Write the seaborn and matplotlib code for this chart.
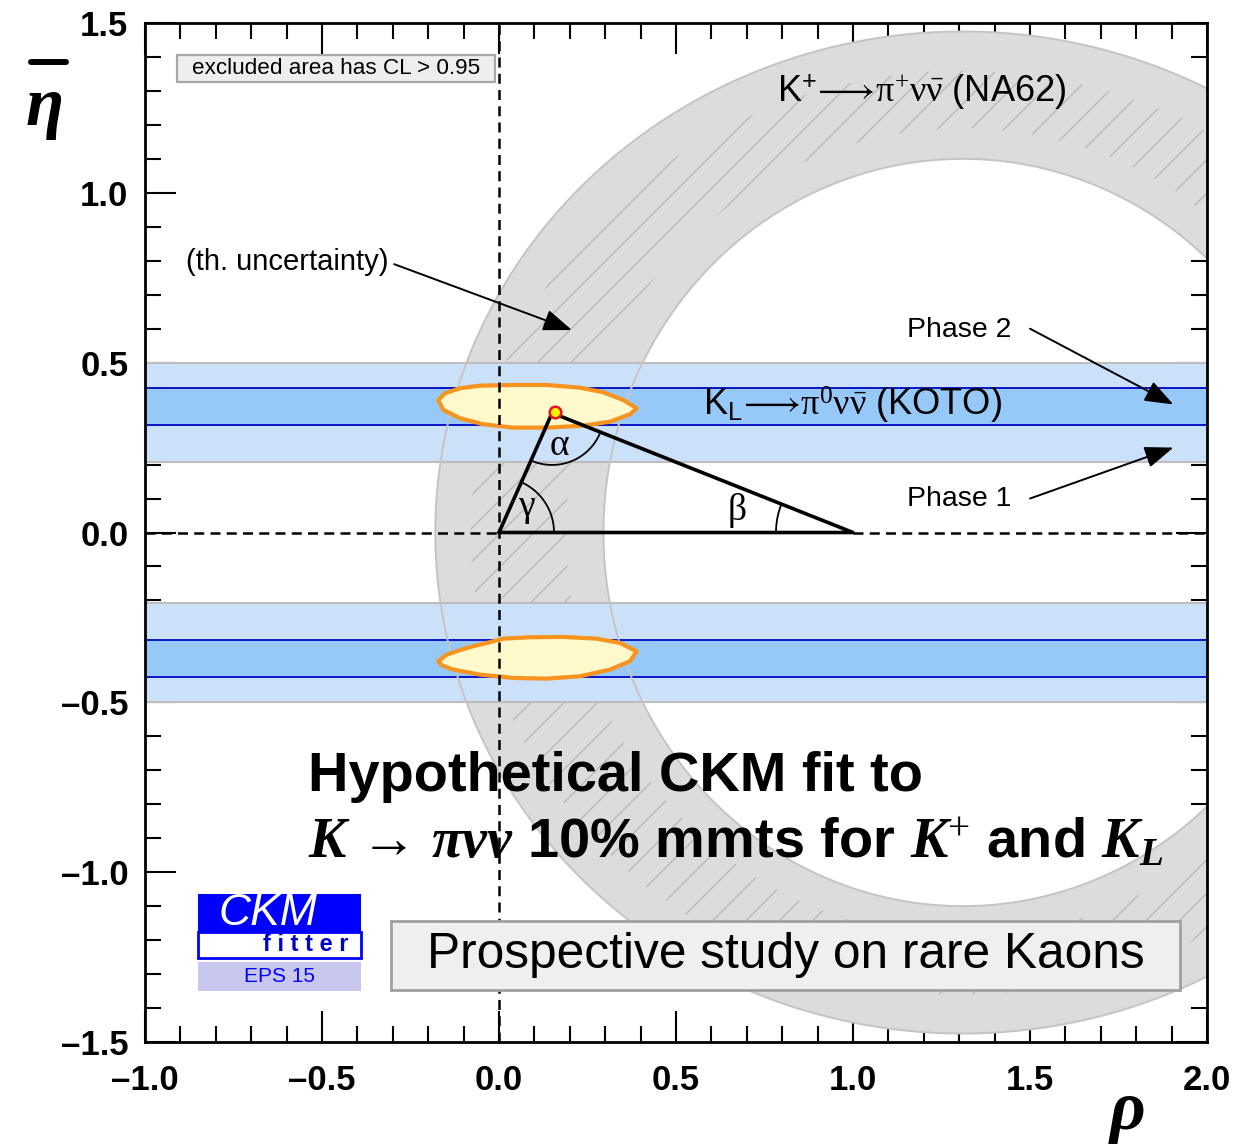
import numpy as np
import pandas as pd
import matplotlib
matplotlib.use("Agg")
import matplotlib.pyplot as plt
import seaborn as sns
from matplotlib.patches import Rectangle, PathPatch, Polygon
from matplotlib.path import Path
from matplotlib.lines import Line2D
from matplotlib.ticker import MultipleLocator, FixedLocator, FixedFormatter

# ---------------------------------------------------------------- data
x_ticks = [-1.0, -0.5, 0.0, 0.5, 1.0, 1.5, 2.0]
x_tick_labels = ["–1.0", "–0.5", "0.0", "0.5", "1.0", "1.5", "2.0"]
y_ticks = [-1.5, -1.0, -0.5, 0.0, 0.5, 1.0, 1.5]
y_tick_labels = ["–1.5", "–1.0", "–0.5", "0.0", "0.5", "1.0", "1.5"]

# K+ -> pi+ nu nubar (NA62): elliptical annulus centred on the rho axis
na62_center = [1.31, 0.0]
na62_outer_axes = [1.49, 1.475]
na62_inner_axes = [1.015, 1.10]
# theory-uncertainty (hatched) part of the annulus
na62_theory_outer_axes = [1.39, 1.36]
na62_theory_inner_axes = [1.12, 1.19]

# K_L -> pi0 nu nubar (KOTO): |eta| bands
koto_phase1 = [0.208, 0.499]
koto_phase2 = [0.317, 0.426]

# unitarity triangle vertices
triangle_rho = [0.0, 0.15, 1.0, 0.0]
triangle_eta = [0.0, 0.352, 0.0, 0.0]

# best-fit point
fit_rho = [0.158]
fit_eta = [0.355]

# 95% CL fit regions (two solutions, eta > 0 and eta < 0)
blob_upper_rho = [-0.1715, -0.1525, -0.1102, -0.0537, 0.0404, 0.1347, 0.2288, 0.2946, 0.3511,
                  0.3890, 0.3701, 0.3136, 0.2381, 0.1347, 0.0404, -0.0444, -0.1102, -0.1573]
blob_upper_eta = [0.390, 0.410, 0.4246, 0.4323, 0.4343, 0.4343, 0.4264, 0.4129, 0.390,
                  0.3658, 0.3481, 0.3263, 0.3145, 0.3087, 0.3087, 0.3187, 0.3363, 0.3608]
blob_lower_rho = [-0.1715, -0.1477, -0.0912, -0.0347, 0.0121, 0.0876, 0.1816, 0.2760, 0.3418,
                  0.3890, 0.3701, 0.3136, 0.2288, 0.1347, 0.0404, -0.0537, -0.1291, -0.1619]
blob_lower_eta = [-0.3790, -0.3596, -0.3399, -0.3252, -0.3125, -0.3084, -0.3075, -0.3125, -0.3252,
                  -0.3496, -0.3790, -0.4037, -0.4232, -0.4302, -0.4282, -0.4185, -0.4037, -0.3908]

# ---------------------------------------------------------------- style
sns.set_style("ticks")
plt.rcParams["font.family"] = ["Liberation Sans", "DejaVu Sans"]
plt.rcParams["text.color"] = "black"
plt.rcParams["xtick.color"] = "black"
plt.rcParams["ytick.color"] = "black"
plt.rcParams["xtick.labelcolor"] = "black"
plt.rcParams["ytick.labelcolor"] = "black"
plt.rcParams["axes.edgecolor"] = "black"
plt.rcParams["mathtext.fontset"] = "custom"
plt.rcParams["mathtext.rm"] = "Liberation Serif"
plt.rcParams["mathtext.it"] = "Liberation Serif:italic"
plt.rcParams["mathtext.bf"] = "Liberation Serif:bold"
plt.rcParams["mathtext.bfit"] = "Liberation Serif:italic:bold"
plt.rcParams["mathtext.sf"] = "Liberation Sans"
plt.rcParams["hatch.linewidth"] = 1.0

W, H, DPI = 1241, 1145, 100
fig = plt.figure(figsize=(W / DPI, H / DPI), dpi=DPI)
ax = fig.add_axes([145 / W, 1 - 1042 / H, (1207 - 145) / W, (1042 - 23) / H])
ax.set_xlim(-1.0, 2.0)
ax.set_ylim(-1.5, 1.5)
ax.set_facecolor("white")

# pixel scale of the axes, used to keep arcs circular on screen
SX = (1207 - 145) / 3.0
SY = (1042 - 23) / 3.0


def ellipse_xy(center, axes, n=400, reverse=False):
    t = np.linspace(0, 2 * np.pi, n)
    if reverse:
        t = t[::-1]
    return np.column_stack([center[0] + axes[0] * np.cos(t), center[1] + axes[1] * np.sin(t)])


def annulus_path(center, outer, inner):
    o = ellipse_xy(center, outer)
    i = ellipse_xy(center, inner, reverse=True)
    verts = np.vstack([o, i])
    codes = ([Path.MOVETO] + [Path.LINETO] * (len(o) - 1)
             + [Path.MOVETO] + [Path.LINETO] * (len(i) - 1))
    return Path(verts, codes)


# NA62 annulus
ax.add_patch(PathPatch(annulus_path(na62_center, na62_outer_axes, na62_inner_axes),
                       facecolor="#dcdcdc", edgecolor="none", zorder=1))
ax.add_patch(PathPatch(annulus_path(na62_center, na62_theory_outer_axes, na62_theory_inner_axes),
                       facecolor="none", edgecolor="#bababa", lw=0, hatch="/", zorder=1.2))

# KOTO bands
for sgn in (1, -1):
    lo1, hi1 = sorted([sgn * koto_phase1[0], sgn * koto_phase1[1]])
    lo2, hi2 = sorted([sgn * koto_phase2[0], sgn * koto_phase2[1]])
    ax.axhspan(lo1, hi1, facecolor="#cbe1f9", edgecolor="none", zorder=2)
    ax.axhline(lo1, color="#bdbdbd", lw=1.5, zorder=2.1)
    ax.axhline(hi1, color="#bdbdbd", lw=1.5, zorder=2.1)
    ax.axhspan(lo2, hi2, facecolor="#97c9f8", edgecolor="none", zorder=2.2)
    ax.axhline(lo2, color="#0a14c8", lw=1.4, zorder=2.3)
    ax.axhline(hi2, color="#0a14c8", lw=1.4, zorder=2.3)

# annulus outlines on top of the bands
for axes_ in (na62_outer_axes, na62_inner_axes):
    e = ellipse_xy(na62_center, axes_)
    ax.plot(e[:, 0], e[:, 1], color="#c4c4c4", lw=1.4, zorder=2.5)

# fit regions
for rr, ee in ((blob_upper_rho, blob_upper_eta), (blob_lower_rho, blob_lower_eta)):
    ax.add_patch(Polygon(np.column_stack([rr, ee]), closed=True, facecolor="#fff9cc",
                         edgecolor="#f7931e", lw=3.0, joinstyle="round", zorder=3))

# dashed axes through the origin
ax.plot([-1.0, 0.0], [0, 0], color="black", lw=1.8, ls=(0, (4, 2.5)), zorder=4)
ax.plot([1.0, 2.0], [0, 0], color="black", lw=1.8, ls=(0, (4, 2.5)), zorder=4)
ax.plot([0, 0], [-1.5, 1.5], color="black", lw=1.8, ls=(0, (4, 2.5)), zorder=4)

# unitarity triangle
tri = pd.DataFrame({"rho": triangle_rho, "eta": triangle_eta})
sns.lineplot(data=tri, x="rho", y="eta", sort=False, color="black", lw=2.6, ax=ax,
             zorder=5, estimator=None)
sns.scatterplot(x=fit_rho, y=fit_eta, s=70, color="#fff200", edgecolor="#e8101a",
                linewidth=1.8, ax=ax, zorder=6)


def angle_arc(vx, vy, p1, p2, radius_px, **kw):
    a1 = np.arctan2((p1[1] - vy) * SY, (p1[0] - vx) * SX)
    a2 = np.arctan2((p2[1] - vy) * SY, (p2[0] - vx) * SX)
    if a2 < a1:
        a2 += 2 * np.pi
    t = np.linspace(a1, a2, 100)
    ax.plot(vx + radius_px * np.cos(t) / SX, vy + radius_px * np.sin(t) / SY, **kw)


A = (triangle_rho[0], triangle_eta[0])
B = (triangle_rho[1], triangle_eta[1])
C = (triangle_rho[2], triangle_eta[2])
angle_arc(A[0], A[1], C, B, 55, color="black", lw=1.3, zorder=5)
angle_arc(B[0], B[1], A, C, 52, color="black", lw=1.3, zorder=5)
angle_arc(C[0], C[1], B, A, 77, color="black", lw=1.3, zorder=5)
serif = ["Liberation Serif", "DejaVu Serif"]
ax.text(0.172, 0.255, "α", family=serif, fontsize=27, ha="center", va="center", zorder=6)
ax.text(0.078, 0.075, "γ", family=serif, fontsize=27, ha="center", va="center", zorder=6)
ax.text(0.672, 0.065, "β", family=serif, fontsize=27, ha="center", va="center", zorder=6)

# labels
ax.text(1.195, 1.295, r"K$^{\mathsf{+}}\!\longrightarrow\!\mathrm{\pi}^{+}\mathrm{\nu\bar{\nu}}$ (NA62)",
        fontsize=26, ha="center", va="center", zorder=7)
ax.text(0.576, 0.375, r"K$_{\mathsf{L}}\!\longrightarrow\!\mathrm{\pi}^{0}\mathrm{\nu\bar{\nu}}$ (KOTO)",
        fontsize=26, ha="left", va="center", zorder=7)
ax.text(-0.885, 0.796, "(th. uncertainty)", fontsize=21, ha="left", va="center", zorder=7)
ax.text(1.30, 0.596, "Phase 2", fontsize=20.5, ha="center", va="center", zorder=7)
ax.text(1.30, 0.100, "Phase 1", fontsize=20.5, ha="center", va="center", zorder=7)

arrow = dict(arrowstyle="-|>,head_length=0.8,head_width=0.3", color="black", lw=1.4,
             mutation_scale=22, shrinkA=0, shrinkB=0)
ax.annotate("", xy=(0.206, 0.596), xytext=(-0.296, 0.790), arrowprops=arrow, zorder=7)
ax.annotate("", xy=(1.905, 0.377), xytext=(1.50, 0.600), arrowprops=arrow, zorder=7)
ax.annotate("", xy=(1.905, 0.250), xytext=(1.50, 0.100), arrowprops=arrow, zorder=7)

# legend-like boxes
ax.add_patch(Rectangle((-0.910, 1.326), 0.899, 0.080, facecolor="#eeeeee", edgecolor="#a8a8a8",
                       lw=1.6, zorder=8))
ax.text(-0.4605, 1.366, "excluded area has CL > 0.95", fontsize=16.2, ha="center", va="center",
        zorder=9)
ax.add_patch(Rectangle((-0.305, -1.347), 2.229, 0.204, facecolor="#efefef", edgecolor="#a0a0a0",
                       lw=2.0, zorder=8))
ax.text(0.8095, -1.245, "Prospective study on rare Kaons", fontsize=35.7, ha="center", va="center",
        zorder=9)

# title
ax.text(-0.540, -0.720, "Hypothetical CKM fit to", fontsize=40.3, fontweight="bold",
        ha="left", va="center", zorder=9)
ax.text(-0.540, -0.917,
        r"$\mathbfit{K}\,\rightarrow\,\mathbfit{\pi\nu\nu}$ 10% mmts for $\mathbfit{K}^{+}$ and $\mathbfit{K_L}$",
        fontsize=40.3, fontweight="bold", ha="left", va="center", zorder=9)

# CKMfitter logo
ax.add_patch(Rectangle((-0.850, -1.176), 0.460, 0.112, facecolor="#0000ff", edgecolor="none", zorder=8))
ax.add_patch(Rectangle((-0.850, -1.252), 0.460, 0.076, facecolor="white", edgecolor="#0000ff",
                       lw=2.0, zorder=8))
ax.add_patch(Rectangle((-0.850, -1.350), 0.460, 0.086, facecolor="#c8c8ee", edgecolor="none", zorder=8))
ax.text(-0.653, -1.121, "CKM", color="white", fontsize=32, style="italic", ha="center",
        va="center", zorder=9)
ax.text(-0.545, -1.214, "f i t t e r", color="#0000cc", fontsize=17, fontweight="bold",
        ha="center", va="center", zorder=9)
ax.text(-0.62, -1.307, "EPS 15", color="#0000ff", fontsize=15, ha="center", va="center", zorder=9)

# axes & ticks
for s in ax.spines.values():
    s.set_linewidth(2.0)
    s.set_color("black")
    s.set_zorder(10)
ax.xaxis.set_major_locator(FixedLocator(x_ticks))
ax.xaxis.set_major_formatter(FixedFormatter(x_tick_labels))
ax.yaxis.set_major_locator(FixedLocator(y_ticks))
ax.yaxis.set_major_formatter(FixedFormatter(y_tick_labels))
ax.xaxis.set_minor_locator(MultipleLocator(0.1))
ax.yaxis.set_minor_locator(MultipleLocator(0.1))
ax.tick_params(which="both", direction="in", top=True, right=True, width=1.5, color="black")
ax.tick_params(which="major", length=22)
ax.tick_params(which="minor", length=11.5)
ax.tick_params(axis="x", which="major", pad=16, labelsize=25, labelcolor="black")
ax.tick_params(axis="y", which="major", pad=12, labelsize=25, labelcolor="black")
for lab in ax.get_xticklabels() + ax.get_yticklabels():
    lab.set_fontweight("bold")
ax.set_xlabel("")
ax.set_ylabel("")

# axis titles
fig.text(1128 / W, 1 - 1112 / H, "ρ", family=serif, style="italic", fontweight="bold",
         fontsize=50, ha="center", va="center")
fig.text(45 / W, 1 - 108 / H, "η", family=serif, style="italic", fontweight="bold",
         fontsize=50, ha="center", va="center")
fig.add_artist(Line2D([31 / W, 66 / W], [1 - 62 / H, 1 - 62 / H], color="black", lw=4.3))

fig.savefig("out.png", dpi=DPI)
